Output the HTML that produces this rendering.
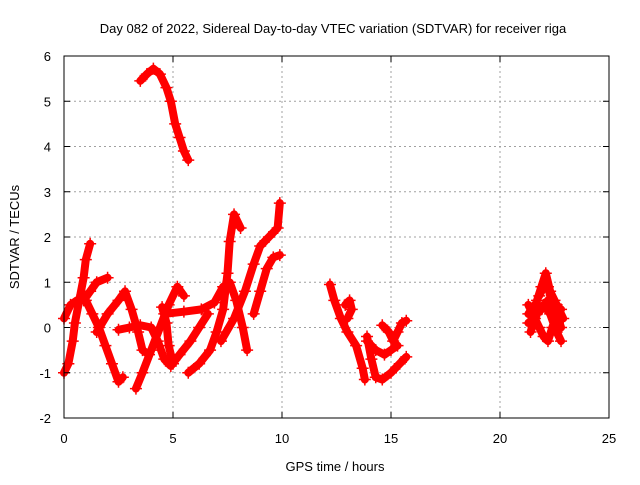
<!DOCTYPE html>
<html><head><meta charset="utf-8"><style>
body{margin:0;background:#fff}
svg{font-family:"Liberation Sans",sans-serif;font-size:13px}
</style></head><body>
<svg width="640" height="480" xmlns="http://www.w3.org/2000/svg">
<rect width="640" height="480" fill="#fff"/>
<text x="333" y="33" text-anchor="middle">Day 082 of 2022, Sidereal Day-to-day VTEC variation (SDTVAR) for receiver riga</text>
<g id="grid"></g>
<g id="marks"></g>
<rect x="64" y="56" width="545" height="362" fill="none" stroke="#000" stroke-width="1"/>
<g id="ticks"></g>
<text x="335" y="471" text-anchor="middle">GPS time / hours</text>
<text transform="translate(19,237) rotate(-90)" text-anchor="middle">SDTVAR / TECUs</text>
</svg>
<script>
const xTicks=[0,5,10,15,20,25];
const yTicks=[-2,-1,0,1,2,3,4,5,6];
const trackTop=[[3.5,5.45],[3.8,5.6],[4.1,5.72],[4.4,5.6],[4.7,5.3],[4.9,5.0],[5.1,4.5],[5.3,4.2],[5.5,3.9],[5.7,3.7]];
const trackA=[[0,-1],[0.2,-0.8],[0.4,-0.3],[0.5,0.1],[0.7,0.6],[0.9,1.1],[1.0,1.5],[1.2,1.85]];
const trackB=[[0,0.2],[0.3,0.5],[0.6,0.6],[0.9,0.6],[1.2,0.8],[1.5,1.0],[2.0,1.1]];
const trackC=[[1.0,0.6],[1.3,0.3],[1.6,0],[1.9,-0.4],[2.2,-0.8],[2.5,-1.2],[2.7,-1.1]];
const trackD=[[1.5,-0.1],[2.0,0.3],[2.5,0.6],[2.8,0.8],[3.1,0.4],[3.4,-0.1],[3.6,-0.5],[3.9,-0.6]];
const trackE=[[3.3,-1.35],[3.6,-1.0],[4.0,-0.5],[4.4,0],[4.8,0.5],[5.2,0.9],[5.5,0.7]];
const trackF=[[2.5,-0.05],[3,0],[3.5,0.05],[4,0.0],[4.3,-0.3],[4.6,-0.7],[4.9,-0.85],[5.3,-0.6],[5.8,-0.3],[6.2,0],[6.6,0.3]];
const trackG=[[4.5,0.45],[4.7,0.1],[4.8,-0.4],[5.0,-0.8]];
const trackI=[[5.7,-1.0],[6.2,-0.8],[6.7,-0.5],[7.0,-0.1],[7.3,0.4],[7.5,1.2],[7.6,1.9],[7.8,2.5],[8.1,2.2]];
const trackJ=[[4.6,0.3],[5.5,0.35],[6.3,0.4],[6.9,0.55],[7.3,0.9],[7.6,1.0],[7.9,0.6],[8.2,0],[8.4,-0.5]];
const trackK=[[7.2,-0.3],[7.8,0.2],[8.3,0.8],[8.7,1.4],[9.0,1.8],[9.4,2.0],[9.8,2.2],[9.9,2.75]];
const trackL=[[8.7,0.3],[9.0,0.8],[9.3,1.3],[9.6,1.55],[9.9,1.6]];
const trackN=[[12.2,0.95],[12.4,0.6],[12.7,0.2],[13.0,-0.1],[13.4,-0.4],[13.7,-0.9],[13.8,-1.15]];
const trackN2=[[12.9,0.5],[13.1,0.6],[13.2,0.4],[13.0,0.2]];
const trackO=[[13.9,-0.2],[14.1,-0.7],[14.3,-1.1],[14.6,-1.15],[15.0,-1.0],[15.4,-0.8],[15.7,-0.65]];
const trackP=[[14.6,0.05],[14.9,-0.1],[15.1,-0.3],[15.3,-0.1],[15.5,0.1],[15.7,0.15]];
const trackQ=[[13.9,-0.3],[14.3,-0.5],[14.7,-0.6],[15.0,-0.5],[15.3,-0.4]];
const trackR=[[21.3,0.5],[21.5,0.3],[21.7,0.6],[21.9,0.9],[22.1,1.2],[22.3,0.8],[22.5,0.6],[22.7,0.4],[22.9,0.2]];
const trackS=[[21.3,0.1],[21.6,0.2],[21.8,0.0],[22.0,-0.2],[22.2,-0.3],[22.4,0.0],[22.6,0.3],[22.8,0.0]];
const trackT=[[21.4,-0.1],[21.7,0.3],[22.0,0.5],[22.3,0.3],[22.6,-0.1],[22.8,-0.3]];
const trackU=[[21.3,0.3],[21.6,0.5],[21.9,0.4],[22.2,0.6],[22.5,0.2],[22.8,0.4]];
const trackV=[[21.8,0.7],[22.0,0.9],[22.2,0.9],[22.4,0.5],[22.6,0.5]];
const tracks=[trackTop,trackA,trackB,trackC,trackD,trackE,trackF,trackG,trackI,trackJ,trackK,trackL,trackN,trackN2,trackO,trackP,trackQ,trackR,trackS,trackT,trackU,trackV];

const NS="http://www.w3.org/2000/svg";
const X0=64,X1=609,Y0=418,Y1=56,xMin=0,xMax=25,yMin=-2,yMax=6;
function sx(v){return X0+(v-xMin)/(xMax-xMin)*(X1-X0);}
function sy(v){return Y0-(v-yMin)/(yMax-yMin)*(Y0-Y1);}
function mk(t,a,p){const e=document.createElementNS(NS,t);for(const k in a)e.setAttribute(k,a[k]);p.appendChild(e);return e;}
const grid=document.getElementById('grid'),ticks=document.getElementById('ticks'),marks=document.getElementById('marks');
xTicks.forEach(t=>{
  const x=sx(t);
  if(t>xMin&&t<xMax){const g=mk('line',{x1:x,x2:x,y1:Y0,y2:Y1,stroke:'#a0a0a0','stroke-dasharray':'2,3'},grid);
  
  }
  mk('line',{x1:x,x2:x,y1:Y0,y2:Y0-6,stroke:'#000'},ticks);
  mk('line',{x1:x,x2:x,y1:Y1,y2:Y1+6,stroke:'#000'},ticks);
  const l=mk('text',{x:x,y:443,'text-anchor':'middle'},ticks);l.textContent=t;
  
  
});
yTicks.forEach(t=>{
  const y=sy(t);
  if(t>yMin&&t<yMax){const g=mk('line',{x1:X0,x2:X1,y1:y,y2:y,stroke:'#a0a0a0','stroke-dasharray':'2,3'},grid);
  
  }
  mk('line',{x1:X0,x2:X0+6,y1:y,y2:y,stroke:'#000'},ticks);
  mk('line',{x1:X1,x2:X1-6,y1:y,y2:y,stroke:'#000'},ticks);
  const l=mk('text',{x:51,y:y+5,'text-anchor':'end'},ticks);l.textContent=t;
  
  
});
tracks.forEach(tr=>{
  const pl=mk('polyline',{points:tr.map(p=>sx(p[0])+','+sy(p[1])).join(' '),fill:'none',stroke:'#f00','stroke-width':8,'stroke-linejoin':'round','stroke-linecap':'round'},marks);
  
  
  tr.forEach(p=>{
    const x=sx(p[0]),y=sy(p[1]);
    const m=mk('path',{d:`M${x-6},${y}H${x+6}M${x},${y-6}V${y+6}`,stroke:'#f00','stroke-width':1.5},marks);
    
    
  });
});
</script>
</body></html>
